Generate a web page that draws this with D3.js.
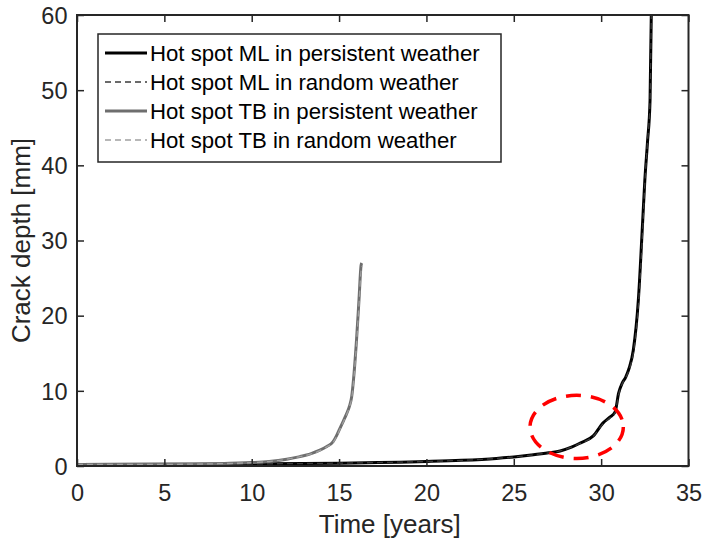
<!DOCTYPE html>
<html><head><meta charset="utf-8">
<script src="https://cdn.jsdelivr.net/npm/d3@7"></script>
<style>body{margin:0;background:#fff;} svg{display:block;} text{font-family:"Liberation Sans",Arial,sans-serif;}</style>
</head><body>
<svg id="c" width="705" height="543"></svg>
<script>
// ---- data ----
const mlTime    = [0, 5, 10, 15, 20, 22, 24, 25, 26, 27, 27.65, 28.3, 28.8, 29.55, 30.1, 30.5, 30.8, 31.0, 31.2, 31.4, 31.6, 31.84, 32.13, 32.38, 32.5, 32.65, 32.8, 32.87];
const mlPersist = [0.2, 0.22, 0.28, 0.38, 0.6, 0.75, 1.0, 1.2, 1.45, 1.75, 2.0, 2.5, 3.05, 4.0, 5.7, 6.5, 7.2, 9.7, 11.0, 11.8, 13.0, 15.4, 22.1, 32.7, 38, 43, 48.7, 60];
const mlRandom  = [0.2, 0.22, 0.28, 0.38, 0.6, 0.75, 1.0, 1.2, 1.45, 1.75, 2.0, 2.5, 3.0, 3.95, 5.6, 6.4, 7.1, 9.5, 10.9, 11.7, 12.8, 15.0, 21.3, 31.5, 37.5, 43, 48.7, 60];
const tbTime    = [0, 5, 8, 10, 11, 12, 12.76, 13.4, 13.9, 14.3, 14.65, 14.85, 15.05, 15.25, 15.44, 15.6, 15.72, 15.86, 16.0, 16.14, 16.26, 16.3];
const tbPersist = [0.2, 0.22, 0.3, 0.45, 0.6, 0.9, 1.25, 1.65, 2.1, 2.6, 3.2, 4.0, 5.0, 6.0, 7.0, 8.0, 9.2, 12.4, 16.8, 22.1, 26.7, 27.0];
const tbRandom  = [0.2, 0.22, 0.3, 0.45, 0.6, 0.9, 1.25, 1.6, 2.05, 2.55, 3.1, 3.9, 4.9, 5.9, 6.9, 7.9, 9.0, 12.0, 16.3, 21.5, 26.0, 26.6];
const xTicks = [0, 5, 10, 15, 20, 25, 30, 35];
const yTicks = [0, 10, 20, 30, 40, 50, 60];
const legendLabels = ["Hot spot ML in persistent weather", "Hot spot ML in random weather",
                      "Hot spot TB in persistent weather", "Hot spot TB in random weather"];
// highlight ellipse: [centerTime, centerDepth, radiusYears, radiusMm]
const highlight = [28.6, 5.2, 2.67, 4.2];

// ---- layout ----
const svg = d3.select("#c");
const L = 77, R = 688.5, T = 15, B = 466;
const x = d3.scaleLinear().domain([0, 35]).range([L, R]);
const y = d3.scaleLinear().domain([0, 60]).range([B, T]);
const axisCol = "#262626";

const series = [
  {t: mlTime, v: mlPersist, color: "#000000", w: 3, dash: null},
  {t: mlTime, v: mlRandom,  color: "#3a3a3a", w: 1.3, dash: "6,4"},
  {t: tbTime, v: tbPersist, color: "#6e6e6e", w: 3, dash: null},
  {t: tbTime, v: tbRandom,  color: "#a0a0a0", w: 1.3, dash: "6,4"}
];

svg.append("clipPath").attr("id","clp").append("rect")
  .attr("x", L).attr("y", T).attr("width", R - L).attr("height", B - T);

const plot = svg.append("g").attr("clip-path","url(#clp)");
const line = d3.line().x(d => x(d[0])).y(d => y(d[1])).curve(d3.curveMonotoneX);
series.forEach(s => {
  plot.append("path").datum(s.t.map((t, i) => [t, s.v[i]]))
    .attr("d", line).attr("fill","none").attr("stroke", s.color)
    .attr("stroke-width", s.w).attr("stroke-dasharray", s.dash)
    .attr("stroke-linejoin","round");
});

// highlight ellipse
svg.append("ellipse")
  .attr("cx", x(highlight[0])).attr("cy", y(highlight[1]))
  .attr("rx", x(highlight[2]) - x(0)).attr("ry", y(0) - y(highlight[3]))
  .attr("fill","none").attr("stroke","#ff0000").attr("stroke-width",3.5)
  .attr("stroke-dasharray","15,10");

// axes
const fs = 23.5;
const gx = svg.append("g").attr("transform", `translate(0,${B})`)
  .call(d3.axisBottom(x).tickValues(xTicks).tickSize(-7).tickPadding(18).tickFormat(d3.format("d")));
const gy = svg.append("g").attr("transform", `translate(${L},0)`)
  .call(d3.axisLeft(y).tickValues(yTicks).tickSize(-7).tickPadding(9.5).tickFormat(d3.format("d")));
const gxt = svg.append("g").attr("transform", `translate(0,${T})`)
  .call(d3.axisTop(x).tickValues(xTicks).tickSize(-7).tickFormat(""));
const gyr = svg.append("g").attr("transform", `translate(${R},0)`)
  .call(d3.axisRight(y).tickValues(yTicks).tickSize(-7).tickFormat(""));
[gx, gy, gxt, gyr].forEach(g => {
  g.select(".domain").remove();
  g.selectAll(".tick line").attr("stroke", axisCol).attr("stroke-width", 1.5);
  g.selectAll(".tick text").attr("fill", axisCol).style("font-size", fs + "px")
    .style("font-family", '"Liberation Sans",Arial,sans-serif');
});
gy.selectAll(".tick text").attr("dy", "0.35em");
svg.append("rect").attr("x", L).attr("y", T).attr("width", R - L).attr("height", B - T)
  .attr("fill","none").attr("stroke", axisCol).attr("stroke-width", 2);

// axis labels
svg.append("text").attr("x", (L + R) / 2 + 7).attr("y", 533).attr("text-anchor","middle")
  .attr("fill", axisCol).style("font-size","26px").text("Time [years]");
svg.append("text").attr("transform", `translate(30,${(T + B) / 2}) rotate(-90)`)
  .attr("text-anchor","middle").attr("fill", axisCol).style("font-size","26px").text("Crack depth [mm]");

// legend
const lg = svg.append("g");
lg.append("rect").attr("x", 98).attr("y", 34).attr("width", 403).attr("height", 128)
  .attr("fill","#fff").attr("stroke", axisCol).attr("stroke-width", 1.5);
legendLabels.forEach((lab, i) => {
  const cy = 53 + i * 29;
  const s = series[i];
  lg.append("line").attr("x1", 105).attr("x2", 147).attr("y1", cy).attr("y2", cy)
    .attr("stroke", s.color).attr("stroke-width", s.w).attr("stroke-dasharray", s.dash);
  lg.append("text").attr("x", 150).attr("y", cy).attr("dy","0.35em")
    .attr("fill","#000").style("font-size","22.2px").text(lab);
});
</script>
</body></html>
